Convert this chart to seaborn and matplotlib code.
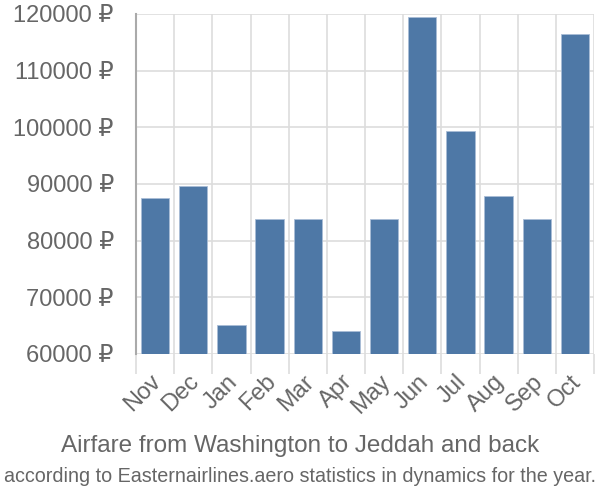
import matplotlib
matplotlib.use("Agg")
import matplotlib.pyplot as plt
import matplotlib.transforms as mtransforms
import seaborn as sns
import pandas as pd
import numpy as np
from matplotlib.ticker import FixedLocator

months = ["Nov", "Dec", "Jan", "Feb", "Mar", "Apr", "May", "Jun", "Jul", "Aug", "Sep", "Oct"]
prices = [87600, 89600, 65200, 83900, 83900, 64100, 83900, 119400, 99400, 87800, 83900, 116500]
yticks = [60000, 70000, 80000, 90000, 100000, 110000, 120000]
title = "Airfare from Washington to Jeddah and back"
subtitle = "according to Easternairlines.aero statistics in dynamics for the year."

sns.set_theme(style="white")
plt.rcParams['font.family'] = ['Liberation Sans', 'DejaVu Sans']

df = pd.DataFrame({"month": months, "price": prices})

fig = plt.figure(figsize=(6, 5), dpi=100)
ax = fig.add_axes([0.2267, 0.292, 0.7633, 0.680])

sns.barplot(data=df, x="month", y="price", color="#4e78a6", saturation=1,
            width=0.74, edgecolor="#a9bdd6", linewidth=0.6, ax=ax, zorder=3)

ax.set_ylim(60000, 120000)
ax.set_xlim(-0.5, len(months) - 0.5)
ax.set_yticks(yticks)
ax.set_yticklabels([f"{v} ₽" for v in yticks])
ax.xaxis.set_minor_locator(FixedLocator(np.arange(-0.5, len(months), 1.0)))
ax.grid(False)
ax.grid(True, axis="y", which="major", color="#dddddd", linewidth=1.2, zorder=0)
ax.grid(True, axis="x", which="minor", color="#dddddd", linewidth=1.2, zorder=0)
ax.tick_params(axis="y", which="major", length=15, width=1.2, color="#dddddd",
               labelsize=17, labelcolor="#666666", pad=1)
ax.tick_params(axis="x", which="major", length=0, labelsize=17, labelcolor="#666666", pad=12)
ax.tick_params(axis="x", which="minor", length=14.5, width=1.2, color="#dddddd", bottom=True)
offset = mtransforms.ScaledTranslation(-5 / 100, 0, fig.dpi_scale_trans)
for lbl in ax.get_xticklabels():
    lbl.set_rotation(45)
    lbl.set_ha("right")
    lbl.set_va("top")
    lbl.set_rotation_mode("anchor")
    lbl.set_transform(lbl.get_transform() + offset)

for s in ["top", "right", "bottom"]:
    ax.spines[s].set_visible(False)
ax.spines["left"].set_color("#aaaaaa")
ax.spines["left"].set_linewidth(1.5)
ax.set_xlabel("")
ax.set_ylabel("")

fig.text(0.5, 1 - 446 / 500, title, ha="center", va="center", fontsize=17.5, color="#666666")
fig.text(0.5, 1 - 476 / 500, subtitle, ha="center", va="center", fontsize=14.2, color="#666666")

fig.savefig("out.png", dpi=100)
